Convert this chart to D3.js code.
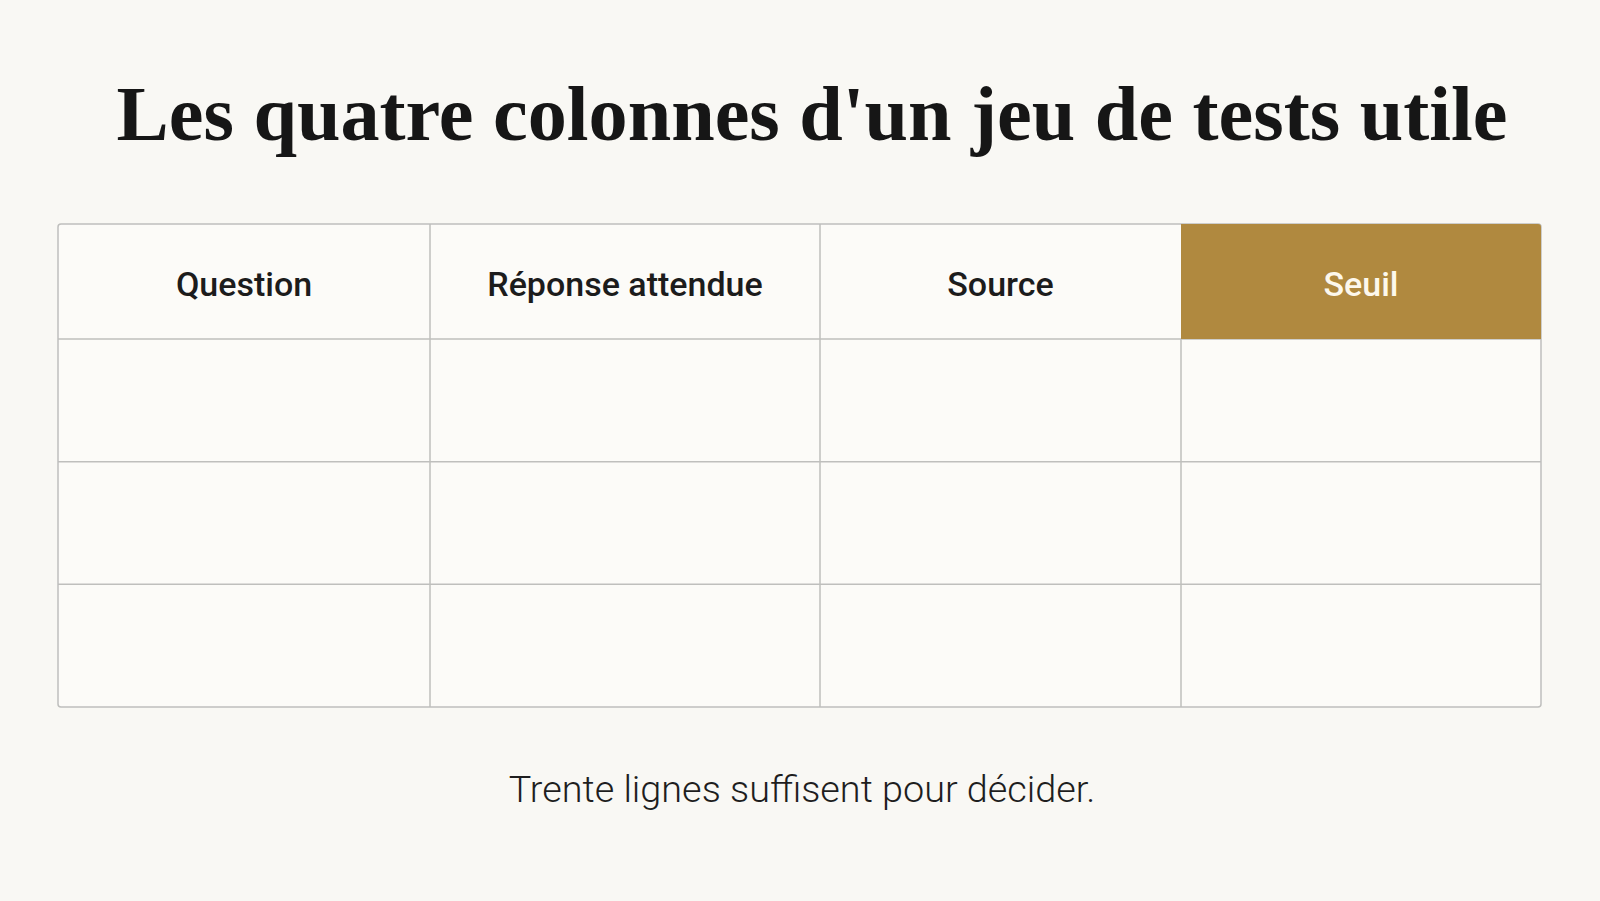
<!DOCTYPE html>
<meta charset="utf-8">
<html>
<head>
<style>
  html, body { margin: 0; padding: 0; background: #f9f8f4; }
  svg { display: block; }
</style>
</head>
<body>

<script src="https://d3js.org/d3.v7.min.js"></script>
<script>
  // chart content
  var title = "Les quatre colonnes d'un jeu de tests utile";
  var columns = ["Question", "Réponse attendue", "Source", "Seuil"];
  var highlighted = ["Seuil"];
  var bodyRows = ["ligne 1", "ligne 2", "ligne 3"];
  var footnote = "Trente lignes suffisent pour décider.";

  var W = 1600, H = 901;

  // layout
  var tableLeft = 58, tableRight = 1541;
  var tableTop = 224, headerBottom = 339, tableBottom = 707;
  var colShare = [372, 390, 361, 360];

  var svg = d3.select("body").append("svg")
    .attr("width", W)
    .attr("height", H);

  svg.append("rect")
    .attr("width", W).attr("height", H)
    .attr("fill", "#f9f8f4");

  // column edges from cumulative shares
  var cum = [0];
  colShare.forEach(function(s) { cum.push(cum[cum.length - 1] + s); });
  var x = d3.scaleLinear()
    .domain([0, cum[cum.length - 1]])
    .range([tableLeft, tableRight]);

  var y = d3.scaleBand()
    .domain(bodyRows)
    .range([headerBottom, tableBottom]);

  var cols = columns.map(function(c, i) {
    return { name: c, x0: x(cum[i]), x1: x(cum[i + 1]) };
  });

  // table body background
  svg.append("rect")
    .attr("x", tableLeft).attr("y", tableTop)
    .attr("width", tableRight - tableLeft)
    .attr("height", tableBottom - tableTop)
    .attr("rx", 3)
    .attr("fill", "#fcfbf8");

  // highlighted header cell
  svg.selectAll(".hl")
    .data(cols.filter(function(d) { return highlighted.indexOf(d.name) >= 0; }))
    .enter().append("path")
      .attr("class", "hl")
      .attr("fill", "#b0893f")
      .attr("d", function(d) {
        var p = d3.path(), r = 3;
        var last = d.x1 >= tableRight - 0.5;
        p.moveTo(d.x0, tableTop);
        if (last) {
          p.lineTo(d.x1 - r, tableTop);
          p.arcTo(d.x1, tableTop, d.x1, tableTop + r, r);
        } else {
          p.lineTo(d.x1, tableTop);
        }
        p.lineTo(d.x1, headerBottom);
        p.lineTo(d.x0, headerBottom);
        p.closePath();
        return p.toString();
      });

  var grid = svg.append("g")
    .attr("stroke", "#bfbfbd")
    .attr("stroke-width", 1.5)
    .attr("fill", "none");

  // horizontal lines
  var hLines = [headerBottom].concat(bodyRows.slice(1).map(function(r) { return y(r); }));
  grid.selectAll(".h")
    .data(hLines)
    .enter().append("line")
      .attr("x1", tableLeft).attr("x2", tableRight)
      .attr("y1", function(d) { return d; })
      .attr("y2", function(d) { return d; });

  // vertical lines
  grid.selectAll(".v")
    .data(cols.slice(1))
    .enter().append("line")
      .attr("x1", function(d) { return d.x0; })
      .attr("x2", function(d) { return d.x0; })
      .attr("y1", function(d) { return highlighted.indexOf(d.name) >= 0 ? headerBottom : tableTop; })
      .attr("y2", tableBottom);

  // outer border (skip top over the gold cell is fine, gold covers it)
  grid.append("rect")
    .attr("x", tableLeft).attr("y", tableTop)
    .attr("width", tableRight - tableLeft)
    .attr("height", tableBottom - tableTop)
    .attr("rx", 3);

  // redraw the gold cell over the border top/right edges
  svg.selectAll(".hl").raise();

  // header labels
  svg.selectAll(".head")
    .data(cols)
    .enter().append("text")
      .attr("class", "head")
      .attr("x", function(d) { return (d.x0 + d.x1) / 2; })
      .attr("y", 296)
      .attr("text-anchor", "middle")
      .attr("font-family", "Roboto, 'Noto Sans', sans-serif")
      .attr("font-weight", 500)
      .attr("font-size", 34)
      .attr("fill", function(d) { return highlighted.indexOf(d.name) >= 0 ? "#fdf8ec" : "#1c1c1c"; })
      .text(function(d) { return d.name; });

  // title, fitted to the reference width
  var t = svg.append("text")
    .attr("x", 812)
    .attr("y", 140)
    .attr("text-anchor", "middle")
    .attr("font-family", "'Liberation Serif', 'DejaVu Serif', serif")
    .attr("font-weight", 700)
    .attr("font-size", 80)
    .attr("fill", "#161616")
    .text(title);
  var tw = t.node().getComputedTextLength();
  t.attr("font-size", 80 * 1391 / tw);

  // footnote
  var f = svg.append("text")
    .attr("x", 802)
    .attr("y", 802)
    .attr("text-anchor", "middle")
    .attr("font-family", "Roboto, 'Noto Sans', sans-serif")
    .attr("font-weight", 300)
    .attr("font-size", 36)
    .attr("fill", "#1e1e1e")
    .text(footnote);
  var fw = f.node().getComputedTextLength();
  f.attr("font-size", 36 * 587 / fw);
</script>
</body>
</html>
